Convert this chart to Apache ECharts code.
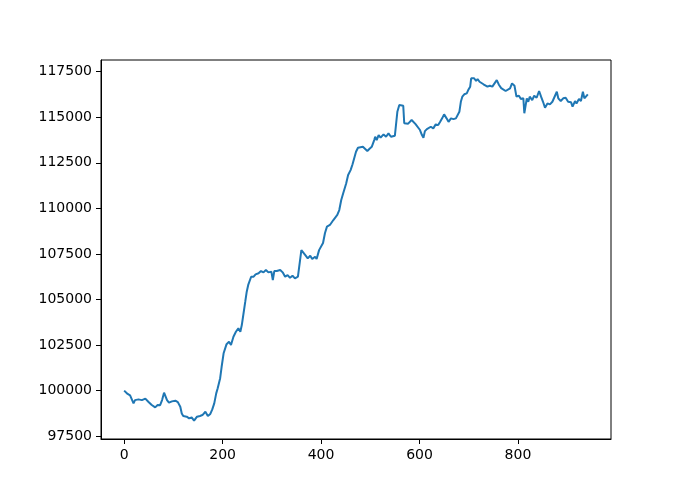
<!DOCTYPE html>
<html>
<head>
<meta charset="utf-8">
<script src="https://cdn.jsdelivr.net/npm/echarts@6/dist/echarts.min.js"></script>
<style>
  html, body { margin: 0; padding: 0; background: #fff; }
  #main { width: 695px; height: 494px; }
</style>
</head>
<body>
<div id="main"></div>
<script>
// 步数 (x) 和对应的数值 (y)
var steps = [
  0, 4, 7, 12, 16, 19, 22, 29, 36, 43, 49, 56, 63, 68, 73, 77, 81, 83, 87, 91,
  97, 104, 109, 114, 117, 120, 127, 132, 137, 142, 148, 154, 159, 165, 170, 175, 179, 183, 187, 190,
  195, 198, 202, 208, 213, 217, 222, 227, 232, 236, 239, 242, 246, 249, 252, 258, 263, 267, 273, 278,
  283, 288, 293, 299, 302, 305, 310, 317, 322, 327, 332, 337, 342, 347, 353, 357, 360, 362, 368, 373,
  378, 382, 388, 391, 396, 400, 404, 408, 412, 415, 418, 422, 425, 428, 433, 437, 441, 445, 451, 455,
  460, 464, 467, 471, 475, 479, 485, 489, 494, 498, 503, 508, 510, 513, 517, 521, 527, 532, 537, 542,
  546, 550, 554, 555, 559, 563, 567, 569, 573, 577, 584, 587, 592, 596, 601, 605, 608, 611, 615, 619,
  623, 628, 633, 638, 642, 646, 650, 655, 659, 664, 669, 674, 678, 681, 684, 687, 691, 696, 699, 703,
  705, 708, 711, 715, 718, 722, 725, 730, 733, 738, 743, 748, 752, 757, 761, 766, 770, 775, 779, 784,
  788, 793, 797, 802, 806, 811, 813, 816, 818, 821, 824, 829, 833, 838, 843, 847, 851, 855, 860, 865,
  870, 874, 879, 882, 887, 892, 897, 902, 908, 911, 916, 919, 924, 928, 932, 935, 939, 942
];
var values = [
  100000, 99990, 99820, 99740, 99640, 99300, 99480, 99520, 99480, 99560, 99390, 99210, 99080, 99210, 99200, 99480, 99890, 99810, 99480, 99340,
  99410, 99450, 99370, 99120, 98750, 98610, 98570, 98480, 98530, 98350, 98570, 98610, 98660, 98840, 98610, 98720, 98970, 99300, 99850, 100130,
  100680, 101310, 102050, 102550, 102680, 102500, 102960, 103230, 103420, 103230, 103600, 104150, 104880, 105430, 105800, 106250, 106250, 106380, 106440, 106560,
  106490, 106620, 106490, 106530, 106070, 106560, 106560, 106620, 106490, 106250, 106340, 106190, 106300, 106160, 106250, 106190, 107710, 107620, 107440, 107260,
  107400, 107220, 107350, 107220, 107710, 107620, 108100, 108650, 109000, 108940, 109090, 109000, 109360, 109270, 109640, 109910, 110460, 110830, 111370, 111830,
  112100, 112420, 112470, 113110, 113330, 113330, 113380, 113330, 113150, 113260, 113380, 113750, 113930, 113750, 114020, 113880, 114060, 113930, 114120, 113930,
  113880, 113990, 114020, 115300, 115670, 115760, 115630, 114670, 114670, 114650, 114850, 114920, 114620, 114670, 114300, 114020, 113880, 114240, 114350, 114300,
  114480, 114390, 114610, 114570, 114750, 114940, 115160, 114940, 114750, 114940, 114900, 114940, 115030, 115300, 115850, 116130, 116260, 116310, 116490, 116680,
  117140, 117040, 117140, 116990, 117100, 116950, 116990, 116810, 116860, 116680, 116730, 116680, 116770, 117040, 116800, 116600, 116650, 116440, 116370, 116590,
  116860, 116730, 116130, 116180, 116000, 116040, 115220, 115120, 116040, 115850, 116130, 115940, 116180, 116070, 116440, 116130, 115850, 115520, 115760, 115710,
  115850, 115760, 116400, 116040, 115890, 116040, 116070, 115850, 115820, 115580, 115890, 115760, 116000, 115890, 116400, 116040, 116070, 116260
];
// 刻度
var xTicks = [0, 200, 400, 600, 800];
var yTicks = [97500, 100000, 102500, 105000, 107500, 110000, 112500, 115000, 117500];

var seriesData = steps.map(function (s, i) { return [s, values[i]]; });

var myChart = echarts.init(document.getElementById('main'));

var labelStyle = {
    color: '#000',
    fontSize: 14,
    fontFamily: 'DejaVu Sans',
    margin: 9,
    formatter: function (v) { return String(v); }
};

var option = {
    animation: false,
    grid: {
        left: 101, right: 84, top: 60, bottom: 55,
        show: true, borderColor: '#000', borderWidth: 1, backgroundColor: '#fff'
    },
    xAxis: {
        type: 'value',
        min: -47.1,
        max: 989.1,
        axisLine: { onZero: false, lineStyle: { color: '#000', width: 1 } },
        axisTick: { length: 5, lineStyle: { color: '#000', width: 1 }, customValues: xTicks },
        axisLabel: Object.assign({ customValues: xTicks }, labelStyle),
        splitLine: { show: false }
    },
    yAxis: {
        type: 'value',
        min: 97346,
        max: 118142,
        axisLine: { show: true, onZero: false, lineStyle: { color: '#000', width: 1 } },
        axisTick: { show: true, length: 5, lineStyle: { color: '#000', width: 1 }, customValues: yTicks },
        axisLabel: Object.assign({ customValues: yTicks }, labelStyle),
        splitLine: { show: false }
    },
    series: [
        {
            type: 'line',
            data: seriesData,
            symbol: 'none',
            lineStyle: { color: '#1f77b4', width: 2 }
        }
    ]
};

myChart.setOption(option);
</script>
</body>
</html>
